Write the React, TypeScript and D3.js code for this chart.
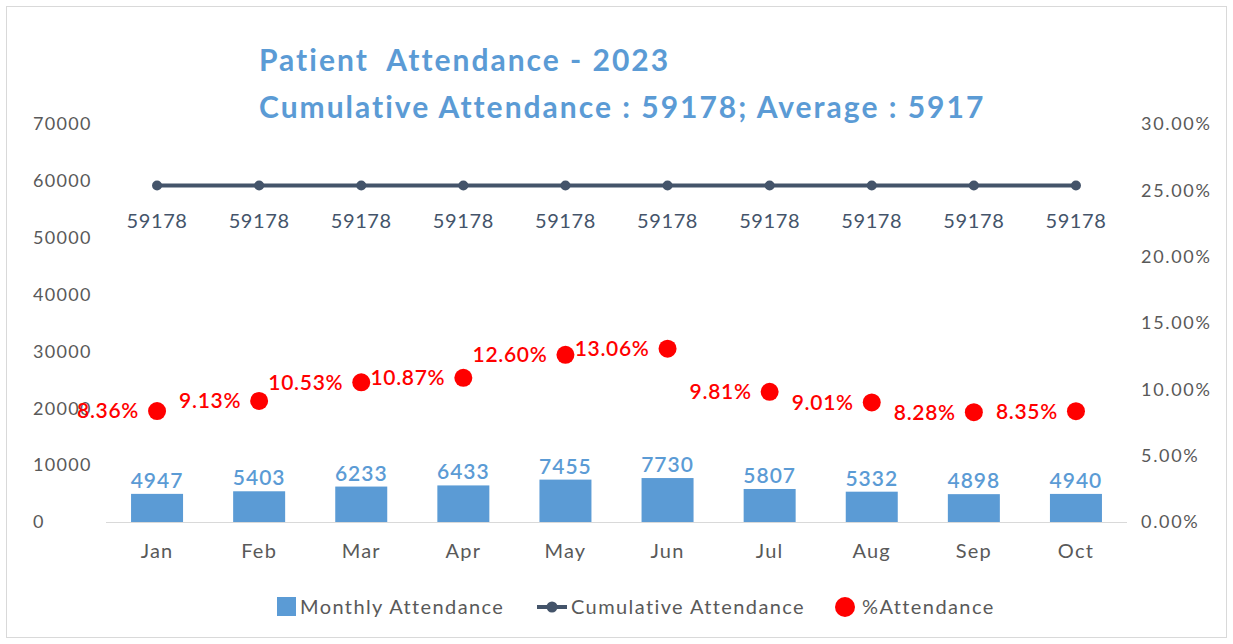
import React, { useEffect, useRef } from 'react';
import * as d3 from 'd3';

const months = ['Jan', 'Feb', 'Mar', 'Apr', 'May', 'Jun', 'Jul', 'Aug', 'Sep', 'Oct'];
const monthly = [4947, 5403, 6233, 6433, 7455, 7730, 5807, 5332, 4898, 4940];
const cumulative = [59178, 59178, 59178, 59178, 59178, 59178, 59178, 59178, 59178, 59178];
const pctAttendance = [8.36, 9.13, 10.53, 10.87, 12.6, 13.06, 9.81, 9.01, 8.28, 8.35];
const leftTicks = [0, 10000, 20000, 30000, 40000, 50000, 60000, 70000];
const rightTicks = [0, 5, 10, 15, 20, 25, 30];
const titleLines = ['Patient  Attendance - 2023', 'Cumulative Attendance : 59178; Average : 5917'];

const FONT = 'Lato, "Open Sans", sans-serif';

const App = () => {
  const svgRef = useRef<SVGSVGElement>(null);

  useEffect(() => {
    const svg = d3.select(svgRef.current);
    svg.selectAll('*').remove();

    const W = 1233, H = 644;
    const left = 106, right = 1127, top = 124, bottom = 522;

    svg.append('rect')
      .attr('x', 6.5).attr('y', 6.5)
      .attr('width', W - 13).attr('height', H - 13)
      .attr('fill', '#fff').attr('stroke', '#d9d9d9');

    const x = d3.scaleBand().domain(months).range([left, right]).paddingInner(0).paddingOuter(0);
    const y = d3.scaleLinear().domain([0, 70000]).range([bottom, top]);
    const y2 = d3.scaleLinear().domain([0, 30]).range([bottom, top]);
    const cx = (m: string) => (x(m) as number) + x.bandwidth() / 2;

    // title
    svg.append('g').selectAll('text').data(titleLines).join('text')
      .attr('x', 259).attr('y', (d, i) => 71 + i * 47)
      .attr('font-family', FONT).attr('font-weight', 700).attr('font-size', 30)
      .attr('letter-spacing', 2)
      .attr('fill', '#5B9BD5').attr('xml:space', 'preserve')
      .text(d => d);

    // left axis labels
    svg.append('g').selectAll('text').data(leftTicks).join('text')
      .attr('x', 33).attr('y', d => y(d)).attr('dy', '0.35em')
      .attr('font-family', FONT).attr('font-size', 18).attr('letter-spacing', 1.3)
      .attr('fill', '#595959')
      .text(d => d);

    // right axis labels
    svg.append('g').selectAll('text').data(rightTicks).join('text')
      .attr('x', 1141).attr('y', d => y2(d)).attr('dy', '0.35em')
      .attr('font-family', FONT).attr('font-size', 18).attr('letter-spacing', 1.7)
      .attr('fill', '#595959')
      .text(d => d.toFixed(2) + '%');

    // baseline
    svg.append('line')
      .attr('x1', left).attr('x2', right).attr('y1', bottom + 0.5).attr('y2', bottom + 0.5)
      .attr('stroke', '#d9d9d9').attr('stroke-width', 1);

    // month labels
    svg.append('g').selectAll('text').data(months).join('text')
      .attr('x', d => cx(d)).attr('y', 558)
      .attr('text-anchor', 'middle')
      .attr('font-family', FONT).attr('font-size', 20).attr('letter-spacing', 1.2)
      .attr('fill', '#595959')
      .text(d => d);

    // bars
    const barW = 52;
    svg.append('g').selectAll('rect').data(monthly).join('rect')
      .attr('x', (d, i) => cx(months[i]) - barW / 2)
      .attr('y', d => y(d))
      .attr('width', barW)
      .attr('height', d => bottom - y(d))
      .attr('fill', '#5B9BD5');

    svg.append('g').selectAll('text').data(monthly).join('text')
      .attr('x', (d, i) => cx(months[i])).attr('y', d => y(d) - 6)
      .attr('text-anchor', 'middle')
      .attr('font-family', FONT).attr('font-weight', 600).attr('font-size', 21)
      .attr('letter-spacing', 1)
      .attr('fill', '#5B9BD5')
      .text(d => d);

    // cumulative line
    const line = d3.line<number>()
      .x((d, i) => cx(months[i]))
      .y(d => y(d));
    svg.append('path').datum(cumulative)
      .attr('d', line)
      .attr('fill', 'none').attr('stroke', '#44546A').attr('stroke-width', 4);
    svg.append('g').selectAll('circle').data(cumulative).join('circle')
      .attr('cx', (d, i) => cx(months[i])).attr('cy', d => y(d)).attr('r', 5)
      .attr('fill', '#44546A');
    svg.append('g').selectAll('text').data(cumulative).join('text')
      .attr('x', (d, i) => cx(months[i])).attr('y', d => y(d) + 42)
      .attr('text-anchor', 'middle')
      .attr('font-family', FONT).attr('font-size', 20).attr('letter-spacing', 0.6)
      .attr('fill', '#44546A')
      .text(d => d);

    // % attendance
    svg.append('g').selectAll('circle').data(pctAttendance).join('circle')
      .attr('cx', (d, i) => cx(months[i])).attr('cy', d => y2(d)).attr('r', 9)
      .attr('fill', '#FF0000');
    svg.append('g').selectAll('text').data(pctAttendance).join('text')
      .attr('x', (d, i) => cx(months[i]) - 18).attr('y', d => y2(d)).attr('dy', '0.35em')
      .attr('text-anchor', 'end')
      .attr('font-family', FONT).attr('font-weight', 600).attr('font-size', 21)
      .attr('letter-spacing', 0.7)
      .attr('fill', '#FF0000')
      .text(d => d.toFixed(2) + '%');

    // legend
    const lg = svg.append('g').attr('font-family', FONT).attr('font-size', 20)
      .attr('letter-spacing', 1.4).attr('fill', '#595959');
    lg.append('rect').attr('x', 277).attr('y', 597).attr('width', 19).attr('height', 19).attr('fill', '#5B9BD5');
    lg.append('text').attr('x', 300).attr('y', 607).attr('dy', '0.35em').text('Monthly Attendance');
    lg.append('line').attr('x1', 537).attr('x2', 567).attr('y1', 607).attr('y2', 607)
      .attr('stroke', '#44546A').attr('stroke-width', 4);
    lg.append('circle').attr('cx', 552).attr('cy', 607).attr('r', 5.5).attr('fill', '#44546A');
    lg.append('text').attr('x', 571).attr('y', 607).attr('dy', '0.35em').text('Cumulative Attendance');
    lg.append('circle').attr('cx', 845).attr('cy', 607).attr('r', 10).attr('fill', '#FF0000');
    lg.append('text').attr('x', 862).attr('y', 607).attr('dy', '0.35em').text('%Attendance');
  }, []);

  return (
    <svg
      ref={svgRef}
      width={1233}
      height={644}
      style={{ position: 'absolute', left: 0, top: 0, display: 'block' }}
    />
  );
};

export default App;
